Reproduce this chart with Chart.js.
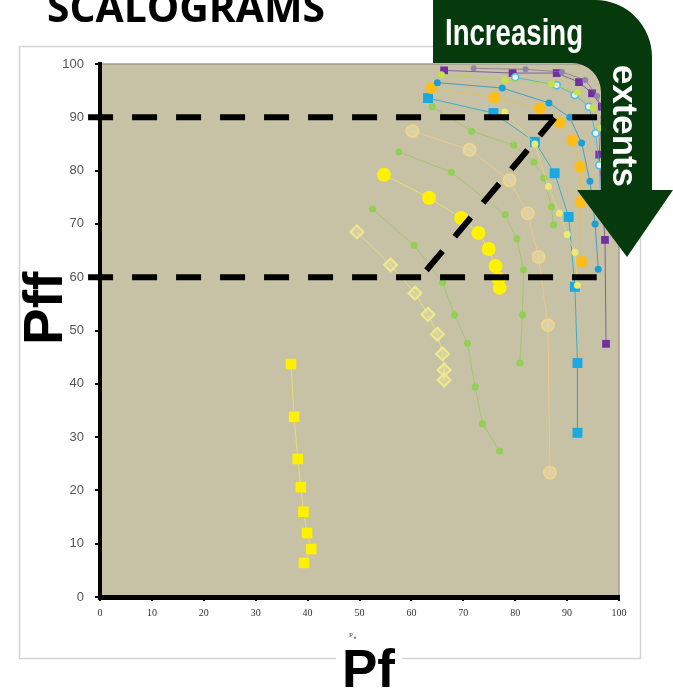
<!DOCTYPE html>
<html>
<head>
<meta charset="utf-8">
<script src="https://cdn.jsdelivr.net/npm/chart.js@4.4.1/dist/chart.umd.min.js"></script>
<style>
  html, body { margin: 0; padding: 0; background: #fff; }
  canvas { display: block; }
</style>
</head>
<body>
<canvas id="scalo" width="673" height="691"></canvas>
<script>
// ticks
const axisTicks = [0, 10, 20, 30, 40, 50, 60, 70, 80, 90, 100];

// series (x = Pf, y = Pff)
const yellowSqX = [36.8, 37.4, 38.1, 38.7, 39.2, 39.9, 40.7, 39.3];
const yellowSqY = [43.7, 33.8, 25.9, 20.6, 16.0, 12.0, 9.0, 6.4];

const paleDiamondX = [49.5, 56.0, 60.7, 63.2, 65.0, 66.0, 66.3, 66.3];
const paleDiamondY = [68.5, 62.3, 57.0, 53.0, 49.3, 45.6, 42.6, 40.7];

const yellowDotX = [54.7, 63.4, 69.6, 72.9, 74.9, 76.2, 76.8, 77.0];
const yellowDotY = [79.2, 74.9, 71.1, 68.3, 65.3, 62.1, 59.7, 58.0];

const greenAX = [52.5, 60.5, 66.0, 68.3, 70.8, 72.3, 73.7, 77.0];
const greenAY = [72.8, 66.0, 59.0, 52.9, 47.6, 39.4, 32.5, 27.4];

const paleRingX = [60.2, 71.2, 78.9, 82.4, 84.5, 86.3, 86.7];
const paleRingY = [87.4, 83.9, 78.2, 72.0, 63.8, 51.0, 23.3];

const greenBX = [57.6, 67.7, 78.1, 80.3, 81.6, 81.4, 80.9];
const greenBY = [83.5, 79.7, 71.7, 67.2, 61.4, 52.9, 43.9];

const greenCX = [64.0, 71.6, 79.7, 83.6, 85.5, 87.0, 87.4];
const greenCY = [92.0, 87.4, 84.8, 81.6, 78.6, 73.2, 69.8];

const paleYellowX = [78.0, 83.8, 86.4, 88.5, 90.0, 91.5, 92.0];
const paleYellowY = [91.0, 85.0, 77.0, 72.0, 68.0, 64.7, 58.5];

const orangeX = [63.8, 76.0, 84.7, 88.6, 91.0, 92.5, 92.6, 92.8];
const orangeY = [95.5, 93.7, 91.7, 89.0, 85.7, 80.7, 74.1, 62.9];

const blueSqX = [63.2, 75.8, 83.8, 87.6, 90.3, 91.5, 92.0, 92.0];
const blueSqY = [93.6, 90.8, 85.4, 79.5, 71.3, 58.2, 43.9, 30.8];

const blueDotX = [65.0, 77.5, 86.5, 90.5, 92.8, 94.4, 95.4, 96.0];
const blueDotY = [96.5, 95.5, 92.7, 90.0, 85.2, 78.0, 70.0, 61.5];

const cyanRingX = [80.0, 88.0, 91.5, 94.2, 95.5, 96.2, 96.5];
const cyanRingY = [97.5, 96.0, 94.2, 92.0, 87.0, 81.0, 74.0];

const limeTopX = [65.8, 78.0, 87.0, 92.0, 95.0, 96.5, 97.0];
const limeTopY = [98.0, 97.0, 96.3, 94.7, 91.8, 88.0, 82.0];

const greyTopX = [72.0, 82.0, 89.0, 93.5, 95.8, 97.0];
const greyTopY = [99.2, 99.0, 98.5, 97.0, 94.0, 90.0];

const purpleSqX = [66.3, 79.5, 88.0, 92.3, 94.8, 96.7, 96.2, 97.3, 97.5];
const purpleSqY = [98.8, 98.3, 98.3, 96.6, 94.5, 92.0, 83.0, 67.0, 47.5];

// dashed guide lines [x1, y1, x2, y2] in data units
const guide90 = [-2.3, 90, 96.7, 90];
const guide60 = [-2.3, 60, 95.7, 60];
const guideDiag = [62.9, 61.3, 87.6, 89.9];

const pts = (xs, ys) => xs.map((x, i) => ({ x, y: ys[i] }));

function series(xs, ys, o) {
  return {
    data: pts(xs, ys),
    showLine: true,
    borderColor: o.line,
    borderWidth: 1,
    pointStyle: o.style || "circle",
    pointRadius: o.r,
    pointBackgroundColor: o.fill,
    pointBorderColor: o.edge || o.fill,
    pointBorderWidth: o.edgeW || 0
  };
}

const datasets = [
  series(greyTopX, greyTopY, { line: "rgba(120,110,150,0.7)", fill: "#8f84b0", r: 3 }),
  series(limeTopX, limeTopY, { line: "rgba(190,210,80,0.8)", fill: "#c6df4a", r: 3.5 }),
  series(cyanRingX, cyanRingY, { line: "rgba(60,180,220,0.8)", fill: "#e8f6fb", edge: "#45bde6", edgeW: 1.5, r: 3.5 }),
  series(blueDotX, blueDotY, { line: "rgba(40,150,200,0.8)", fill: "#1b9fd9", r: 3.5 }),
  series(paleYellowX, paleYellowY, { line: "rgba(230,225,110,0.6)", fill: "#eeea70", r: 3.5 }),
  series(orangeX, orangeY, { line: "rgba(240,190,60,0.6)", fill: "#fdbe1a", r: 6 }),
  series(greenCX, greenCY, { line: "rgba(140,200,80,0.6)", fill: "#92cf55", r: 3.5 }),
  series(greenBX, greenBY, { line: "rgba(140,200,80,0.6)", fill: "#92cf55", r: 3.5 }),
  series(greenAX, greenAY, { line: "rgba(140,200,80,0.6)", fill: "#92cf55", r: 3.5 }),
  series(paleRingX, paleRingY, { line: "rgba(240,205,130,0.8)", fill: "rgba(240,225,170,0.5)", edge: "#f1d48c", edgeW: 2, r: 6 }),
  series(paleDiamondX, paleDiamondY, { line: "rgba(235,230,130,0.8)", fill: "rgba(235,232,160,0.4)", edge: "#eeea8c", edgeW: 2, r: 6.5, style: "rectRot" }),
  series(yellowDotX, yellowDotY, { line: "rgba(240,235,80,0.8)", fill: "#fff200", r: 7 }),
  series(yellowSqX, yellowSqY, { line: "rgba(235,230,90,0.8)", fill: "#ffef00", r: 7.5, style: "rect" }),
  series(blueSqX, blueSqY, { line: "rgba(50,170,200,0.9)", fill: "#1aa8e2", r: 7, style: "rect" }),
  series(purpleSqX, purpleSqY, { line: "rgba(120,90,150,0.9)", fill: "#7030a0", r: 5.5, style: "rect" })
];

const decor = {
  id: "decor",
  beforeDraw(chart) {
    const { ctx, chartArea: a } = chart;
    ctx.save();
    ctx.fillStyle = "#fff";
    ctx.fillRect(0, 0, chart.width, chart.height);
    ctx.strokeStyle = "#d4d4d4";
    ctx.lineWidth = 1.5;
    ctx.strokeRect(19.5, 46.5, 621, 612);
    ctx.fillStyle = "#c7c1a5";
    ctx.fillRect(a.left, a.top, a.right - a.left, a.bottom - a.top);
    ctx.strokeStyle = "#a09c90";
    ctx.lineWidth = 1.5;
    ctx.beginPath();
    ctx.moveTo(a.left, a.top);
    ctx.lineTo(a.right, a.top);
    ctx.lineTo(a.right, a.bottom);
    ctx.stroke();
    ctx.restore();
  },
  afterDatasetsDraw(chart) {
    const { ctx, scales: { x, y } } = chart;
    ctx.save();
    ctx.strokeStyle = "#000";
    ctx.lineWidth = 6;
    ctx.setLineDash([25, 19]);
    [guide90, guide60, guideDiag].forEach(g => {
      ctx.beginPath();
      ctx.moveTo(x.getPixelForValue(g[0]), y.getPixelForValue(g[1]));
      ctx.lineTo(x.getPixelForValue(g[2]), y.getPixelForValue(g[3]));
      ctx.stroke();
    });
    ctx.restore();
  },
  afterDraw(chart) {
    const { ctx } = chart;
    ctx.save();
    // green arrow
    ctx.fillStyle = "#063a0c";
    ctx.beginPath();
    ctx.moveTo(433, 0);
    ctx.lineTo(595, 0);
    ctx.arcTo(652, 0, 652, 60, 57);
    ctx.lineTo(652, 190);
    ctx.lineTo(673, 190);
    ctx.lineTo(627, 257);
    ctx.lineTo(577, 190);
    ctx.lineTo(601, 190);
    ctx.lineTo(601, 92);
    ctx.arcTo(601, 63, 572, 63, 29);
    ctx.lineTo(433, 63);
    ctx.closePath();
    ctx.fill();

    ctx.fillStyle = "#fff";
    ctx.textBaseline = "alphabetic";
    ctx.textAlign = "left";
    ctx.font = "bold 36px 'Liberation Sans Narrow', 'Liberation Sans', sans-serif";
    ctx.fillText("Increasing", 445, 45, 138);
    ctx.save();
    ctx.translate(613, 65);
    ctx.rotate(Math.PI / 2);
    ctx.font = "bold 35px 'Liberation Sans Narrow', 'Liberation Sans', sans-serif";
    ctx.fillText("extents", 0, 0, 122);
    ctx.restore();

    // titles
    ctx.fillStyle = "#000";
    ctx.font = "bold 42px 'Open Sans', 'Liberation Sans', sans-serif";
    ctx.fillText("SCALOGRAMS", 47, 22, 278);

    ctx.save();
    ctx.translate(62, 345);
    ctx.rotate(-Math.PI / 2);
    ctx.font = "bold 55px 'Liberation Sans', sans-serif";
    ctx.fillText("Pff", 0, 0, 77);
    ctx.restore();

    ctx.fillStyle = "#fff";
    ctx.fillRect(336, 650, 66, 41);
    ctx.fillStyle = "#000";
    ctx.font = "bold 53px 'Liberation Sans', sans-serif";
    ctx.fillText("Pf", 342, 687, 54);

    ctx.fillStyle = "#333";
    ctx.font = "7px 'Liberation Serif', serif";
    ctx.fillText("P", 349, 637);
    ctx.font = "5px 'Liberation Serif', serif";
    ctx.fillText("ff", 353.5, 639);
    ctx.restore();
  }
};

new Chart(document.getElementById("scalo").getContext("2d"), {
  type: "scatter",
  data: { datasets },
  options: {
    responsive: false,
    animation: false,
    layout: { padding: { left: 50, right: 54, top: 64, bottom: 54 } },
    plugins: { legend: { display: false }, tooltip: { enabled: false } },
    scales: {
      x: {
        type: "linear",
        min: 0,
        max: 100,
        afterBuildTicks: s => { s.ticks = axisTicks.map(v => ({ value: v })); },
        afterFit: s => { s.height = 40; },
        border: { color: "#000", width: 5 },
        grid: { drawOnChartArea: false, color: "#000", lineWidth: 2, tickLength: 4 },
        ticks: { color: "#333", padding: 6, font: { family: "'Liberation Serif', serif", size: 10 } }
      },
      y: {
        type: "linear",
        min: 0,
        max: 100,
        afterBuildTicks: s => { s.ticks = axisTicks.map(v => ({ value: v })); },
        afterFit: s => { s.width = 50; },
        border: { color: "#000", width: 4 },
        grid: { drawOnChartArea: false, color: "#000", lineWidth: 2, tickLength: 5 },
        ticks: { color: "#555", padding: 11, font: { family: "'Liberation Sans', sans-serif", size: 13 } }
      }
    }
  },
  plugins: [decor]
});
</script>
</body>
</html>
